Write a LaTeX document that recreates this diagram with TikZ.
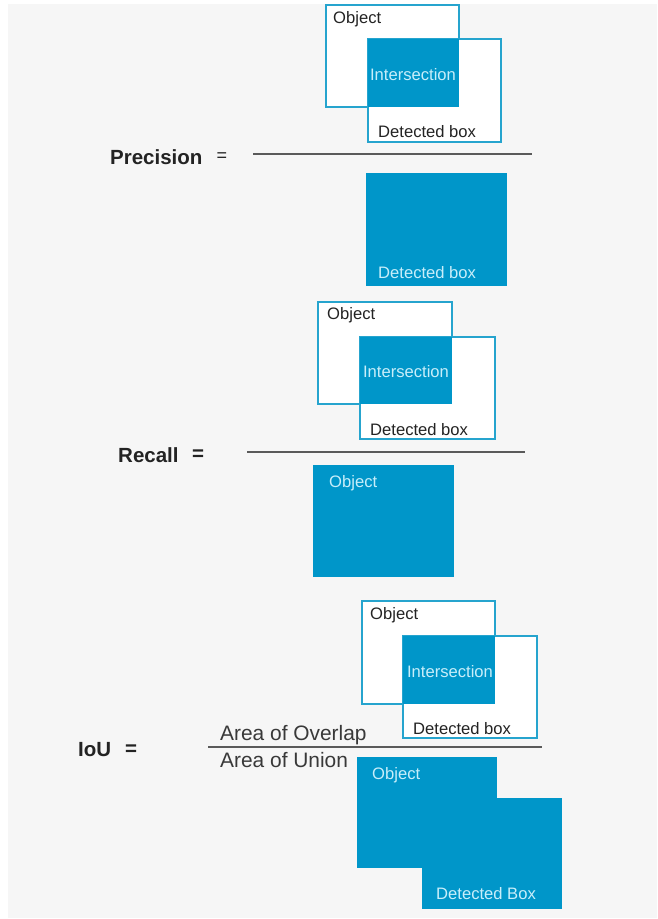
\documentclass[tikz,border=0pt]{standalone}
\usepackage{fontspec}
\setmainfont{Liberation Sans}
\usepackage{xcolor}
\usetikzlibrary{positioning}
\definecolor{boxblue}{RGB}{0,150,201}
\definecolor{edgeblue}{RGB}{38,164,206}
\definecolor{lightcyan}{RGB}{200,238,250}
\definecolor{bggray}{RGB}{246,246,246}
\definecolor{textgray}{RGB}{35,35,35}
\definecolor{fracgray}{RGB}{90,90,90}

\begin{document}
\begin{tikzpicture}[x=1pt, y=-1pt]

	\tikzstyle{outline}=[rectangle, draw=edgeblue, line width=1.6pt, fill=white, inner sep=0pt, outer sep=0pt]
	\tikzstyle{filled}=[rectangle, fill=boxblue, inner sep=0pt, outer sep=0pt]
	\tikzstyle{lbl}=[font=\fontsize{16.6}{18}\selectfont, text=textgray, inner sep=0pt, anchor=west]
	\tikzstyle{lbllight}=[lbl, text=lightcyan]
	\tikzstyle{metric}=[font=\fontsize{20.5}{24}\selectfont\bfseries, text=textgray, inner sep=0pt, anchor=west]
	\tikzstyle{ratio}=[font=\fontsize{20.9}{24}\selectfont, text=textgray!90, inner sep=0pt, anchor=west]
	\tikzstyle{frac}=[line width=1.3pt, draw=fracgray]

	% fond
	\fill[white] (0,0) rectangle (657,919);
	\fill[bggray] (8,4) rectangle (657,918);

	% Precision
	\node[outline, minimum width=133pt, minimum height=102pt] (obj1) at (392.5,56) {};
	\node[outline, minimum width=133pt, minimum height=103pt] (det1) at (434.5,90.5) {};
	\node[filled, minimum width=91pt, minimum height=68pt] (int1) at (413.5,73) {};
	\node[lbl] (obj1txt) at (333,19) {Object};
	\node[lbllight, anchor=center] (int1txt) at (413,75) {Intersection};
	\node[lbl] (det1txt) at (378,132) {Detected box};
	\node[metric] (prec) at (110,157) {Precision};
	\node[font=\fontsize{18}{20}\selectfont, text=textgray] (eq1) at (222,157) {=};
	\coordinate (f1a) at (253,154);
	\coordinate (f1b) at (532,154);
	\draw[frac] (f1a) -- (f1b);
	\node[filled, minimum width=141pt, minimum height=113pt] (precbox) at (436.5,229.5) {};
	\node[lbllight] (precboxtxt) at (378,273) {Detected box};

	% Recall
	\node[outline, minimum width=134pt, minimum height=102pt] (obj2) at (385,353) {};
	\node[outline, minimum width=135pt, minimum height=102pt] (det2) at (427.5,388) {};
	\node[filled, minimum width=92pt, minimum height=67pt] (int2) at (406,370.5) {};
	\node[lbl] (obj2txt) at (327,315) {Object};
	\node[lbllight, anchor=center] (int2txt) at (406,372) {Intersection};
	\node[lbl] (det2txt) at (370,430) {Detected box};
	\node[metric] (rec) at (118,455) {Recall};
	\node[metric, anchor=center] (eq2) at (198,455) {=};
	\coordinate (f2a) at (247,452);
	\coordinate (f2b) at (525,452);
	\draw[frac] (f2a) -- (f2b);
	\node[filled, minimum width=141pt, minimum height=112pt] (recbox) at (383.5,521) {};
	\node[lbllight] (recboxtxt) at (329,483) {Object};

	% IoU
	\node[outline, minimum width=133pt, minimum height=103pt] (obj3) at (428.5,652.5) {};
	\node[outline, minimum width=134pt, minimum height=102pt] (det3) at (470,687) {};
	\node[filled, minimum width=92pt, minimum height=68pt] (int3) at (449,670) {};
	\node[lbl] (obj3txt) at (370,615) {Object};
	\node[lbllight, anchor=center] (int3txt) at (450,672) {Intersection};
	\node[lbl] (det3txt) at (413,729) {Detected box};
	\node[metric] (iou) at (78,750) {IoU};
	\node[metric, anchor=center] (eq3) at (131,750) {=};
	\coordinate (f3a) at (208,747);
	\coordinate (f3b) at (542,747);
	\draw[frac] (f3a) -- (f3b);
	\node[ratio] (overlap) at (220,735) {Area of Overlap};
	\node[ratio] (union) at (220,760) {Area of Union};
	\node[filled, minimum width=140pt, minimum height=111pt] (uobj) at (427,812.5) {};
	\node[filled, minimum width=140pt, minimum height=111pt] (udet) at (492,853.5) {};
	\node[lbllight] (uobjtxt) at (372,775) {Object};
	\node[lbllight] (udettxt) at (436,894) {Detected Box};

\end{tikzpicture}
\end{document}
